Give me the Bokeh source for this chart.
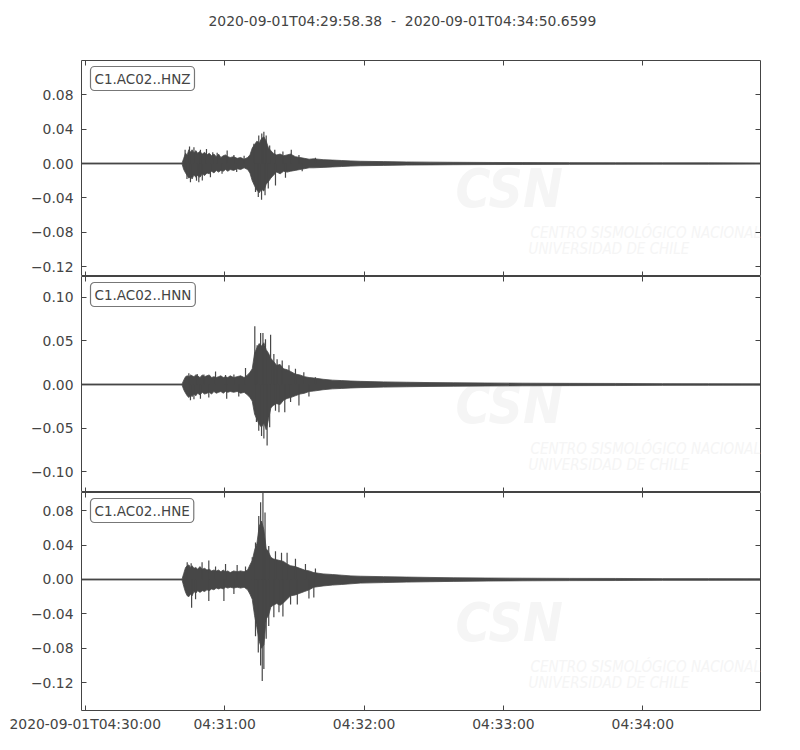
import pandas as pd
from bokeh.plotting import figure
from bokeh.layouts import column
from bokeh.models import Range1d, LinearAxis, FixedTicker, Label, Title, CustomJSTickFormatter
from bokeh.embed import file_html
from bokeh.resources import INLINE

# ---------------- data ----------------
START = "2020-09-01T04:29:58.38"
END = "2020-09-01T04:34:50.6599"
channels = ["C1.AC02..HNZ", "C1.AC02..HNN", "C1.AC02..HNE"]

x_tick_times = ["2020-09-01T04:30:00", "2020-09-01T04:31:00", "2020-09-01T04:32:00",
                "2020-09-01T04:33:00", "2020-09-01T04:34:00"]
x_tick_labels = ["2020-09-01T04:30:00", "04:31:00", "04:32:00", "04:33:00", "04:34:00"]

y_ticks_hnz = [-0.12, -0.08, -0.04, 0.0, 0.04, 0.08]
y_ticks_hnn = [-0.10, -0.05, 0.0, 0.05, 0.10]
y_ticks_hne = [-0.12, -0.08, -0.04, 0.0, 0.04, 0.08]

y_range_hnz = (-0.1314, 0.1198)
y_range_hnn = (-0.124, 0.124)
y_range_hne = (-0.1524, 0.1012)

# envelope sample times (s after start)
t_env = [0, 43.3, 44.0, 44.8, 45.5, 46.2, 47.0, 47.6, 48.4, 49.2,
         50.0, 51.0, 52.0, 53.0, 54.0, 55.0, 56.0, 57.0, 58.0, 59.0,
         60.0, 61.0, 62.0, 63.0, 64.0, 65.5, 67.0, 68.5, 70.0, 71.5,
         72.5, 73.5, 74.5, 75.5, 76.5, 77.5, 78.5, 79.5, 80.5, 81.5,
         82.5, 84.0, 85.5, 87.0, 88.5, 90.0, 92.0, 94.0, 96.0, 98.0,
         100.0, 104.0, 108.0, 112.0, 116.0, 120.0, 130.0, 140.0, 150.0, 160.0,
         175.0, 190.0, 210.0, 230.0, 250.0, 270.0, 292.28]

hnz_upper = [0.0006, 0.0006, 0.006, 0.012, 0.010, 0.016, 0.013, 0.016, 0.012, 0.015,
             0.012, 0.014, 0.011, 0.013, 0.010, 0.012, 0.009, 0.011, 0.008, 0.011,
             0.007, 0.009, 0.010, 0.008, 0.007, 0.008, 0.006, 0.007, 0.005, 0.007,
             0.010, 0.018, 0.022, 0.026, 0.024, 0.029, 0.031, 0.026, 0.018, 0.015,
             0.012, 0.010, 0.011, 0.009, 0.010, 0.011, 0.008, 0.007, 0.006, 0.005,
             0.0055, 0.0045, 0.004, 0.0035, 0.003, 0.0026, 0.0022, 0.0018, 0.0016, 0.0014,
             0.0012, 0.0011, 0.001, 0.0009, 0.0008, 0.0008, 0.0007]
hnz_lower = [-0.0006, -0.0006, -0.007, -0.011, -0.014, -0.017, -0.015, -0.018, -0.013, -0.016,
             -0.014, -0.016, -0.012, -0.014, -0.011, -0.012, -0.009, -0.011, -0.008, -0.010,
             -0.008, -0.009, -0.007, -0.009, -0.007, -0.008, -0.006, -0.007, -0.005, -0.007,
             -0.011, -0.020, -0.026, -0.031, -0.034, -0.030, -0.032, -0.024, -0.021, -0.017,
             -0.014, -0.010, -0.012, -0.009, -0.010, -0.009, -0.008, -0.007, -0.006, -0.005,
             -0.005, -0.0045, -0.004, -0.0035, -0.003, -0.0026, -0.0022, -0.0018, -0.0016, -0.0014,
             -0.0012, -0.0011, -0.001, -0.0009, -0.0008, -0.0008, -0.0007]

hnn_upper = [0.0006, 0.0006, 0.005, 0.009, 0.010, 0.009, 0.011, 0.010, 0.009, 0.011,
             0.010, 0.008, 0.011, 0.009, 0.010, 0.011, 0.008, 0.009, 0.008, 0.009,
             0.010, 0.008, 0.009, 0.008, 0.010, 0.008, 0.009, 0.010, 0.008, 0.011,
             0.014, 0.018, 0.036, 0.042, 0.047, 0.044, 0.048, 0.040, 0.036, 0.030,
             0.027, 0.022, 0.023, 0.018, 0.017, 0.015, 0.012, 0.011, 0.009, 0.008,
             0.0075, 0.006, 0.005, 0.0045, 0.004, 0.0036, 0.003, 0.0026, 0.0022, 0.002,
             0.0017, 0.0015, 0.0013, 0.0012, 0.001, 0.0009, 0.0008]
hnn_lower = [-0.0006, -0.0006, -0.006, -0.010, -0.013, -0.015, -0.012, -0.014, -0.011, -0.013,
             -0.010, -0.012, -0.009, -0.011, -0.010, -0.009, -0.011, -0.008, -0.010, -0.009,
             -0.008, -0.010, -0.008, -0.009, -0.008, -0.009, -0.008, -0.010, -0.009, -0.012,
             -0.015, -0.019, -0.034, -0.040, -0.046, -0.049, -0.044, -0.052, -0.040, -0.027,
             -0.024, -0.022, -0.023, -0.018, -0.016, -0.015, -0.013, -0.011, -0.010, -0.008,
             -0.0075, -0.006, -0.005, -0.0045, -0.004, -0.0036, -0.003, -0.0026, -0.0022, -0.002,
             -0.0017, -0.0015, -0.0013, -0.0012, -0.001, -0.0009, -0.0008]

hne_upper = [0.0006, 0.0006, 0.007, 0.014, 0.016, 0.017, 0.014, 0.016, 0.013, 0.014,
             0.012, 0.015, 0.012, 0.013, 0.011, 0.012, 0.010, 0.011, 0.010, 0.011,
             0.009, 0.011, 0.009, 0.010, 0.008, 0.010, 0.009, 0.010, 0.009, 0.011,
             0.017, 0.022, 0.034, 0.042, 0.062, 0.068, 0.058, 0.036, 0.032, 0.026,
             0.024, 0.023, 0.022, 0.021, 0.018, 0.016, 0.015, 0.013, 0.011, 0.010,
             0.008, 0.0065, 0.0058, 0.005, 0.0042, 0.0038, 0.0033, 0.0028, 0.0024, 0.002,
             0.0017, 0.0015, 0.0013, 0.0012, 0.001, 0.001, 0.0009]
hne_lower = [-0.0006, -0.0006, -0.008, -0.015, -0.019, -0.020, -0.017, -0.019, -0.014, -0.016,
             -0.013, -0.015, -0.013, -0.014, -0.012, -0.013, -0.011, -0.012, -0.010, -0.011,
             -0.010, -0.011, -0.009, -0.010, -0.009, -0.010, -0.009, -0.010, -0.009, -0.012,
             -0.017, -0.023, -0.042, -0.056, -0.072, -0.080, -0.076, -0.046, -0.042, -0.032,
             -0.030, -0.028, -0.030, -0.027, -0.023, -0.019, -0.018, -0.016, -0.014, -0.012,
             -0.009, -0.0075, -0.0065, -0.0058, -0.005, -0.0042, -0.0036, -0.003, -0.0026, -0.0022,
             -0.0018, -0.0015, -0.0013, -0.0012, -0.001, -0.001, -0.0009]

# individual peaks standing out of the envelope (time s, value)
hnz_spike_t = [44.6, 45.4, 46.5, 46.9, 48.4, 49.5, 50.5, 51.2, 52.0, 53.8,
               55.5, 56.5, 58.4, 60.5, 62.7, 65.6, 66.8, 70.0, 74.2, 74.9,
               76.1, 76.3, 77.5, 77.6, 78.5, 79.0, 79.5, 80.4, 81.0, 83.2,
               83.5, 86.7, 87.8, 90.3, 93.6, 95.0, 100.7]
hnz_spike_v = [0.016, -0.018, 0.0198, -0.0217, 0.019, -0.020, -0.0217, 0.016, -0.0198, 0.017,
               -0.016, 0.013, 0.0124, -0.012, 0.015, 0.010, -0.010, 0.009, 0.023, -0.033,
               -0.039, 0.0326, -0.042, 0.035, 0.037, -0.037, 0.0326, -0.029, 0.021, 0.016,
               -0.0256, 0.014, -0.0167, 0.016, 0.010, -0.009, 0.0066]

hnn_spike_t = [46.2, 49.8, 52.7, 57.7, 62.0, 65.6, 70.6, 74.6, 75.6, 77.1,
               78.1, 79.2, 81.4, 82.8, 84.2, 86.4, 89.3, 92.1, 95.7, 100.7,
               46.9, 48.4, 51.2, 54.8, 62.5, 67.7, 75.3, 76.3, 77.5, 78.5,
               79.9, 81.0, 83.5, 85.0, 87.5, 90.0, 93.6, 97.9]
hnn_spike_v = [0.013, 0.012, 0.0115, 0.015, 0.011, 0.0115, 0.019, 0.067, 0.045, 0.059,
               0.059, 0.052, 0.057, 0.035, 0.029, 0.0276, 0.022, 0.018, 0.014, 0.0084,
               -0.018, -0.017, -0.0165, -0.015, -0.0165, -0.0138, -0.043, -0.053, -0.059, -0.062,
               -0.070, -0.049, -0.030, -0.032, -0.032, -0.020, -0.024, -0.0138]

hne_spike_t = [45.5, 47.2, 51.9, 54.8, 57.7, 62.0, 67.0, 70.6, 73.5, 74.9,
               76.3, 77.1, 78.1, 79.0, 80.6, 83.5, 86.1, 88.5, 92.1, 96.4,
               100.7, 47.4, 49.1, 54.8, 61.3, 65.6, 74.9, 76.1, 77.1, 77.8,
               78.5, 79.5, 80.6, 82.8, 85.0, 86.7, 90.0, 92.9, 97.9, 100.0]
hne_spike_v = [0.020, 0.019, 0.020, 0.022, 0.015, 0.018, 0.017, 0.015, 0.026, 0.043,
               0.074, 0.090, 0.105, 0.078, 0.039, 0.033, 0.031, 0.031, 0.024, 0.018,
               0.0128, -0.033, -0.023, -0.025, -0.025, -0.017, -0.066, -0.085, -0.100, -0.118,
               -0.104, -0.069, -0.054, -0.044, -0.038, -0.043, -0.029, -0.029, -0.022, -0.021]

# ---------------- styling ----------------
FONT = "DejaVu Sans"
TXT = "#444444"
WAVE = "#474747"
FRAME_W = 679

t0 = pd.Timestamp(START)
duration = (pd.Timestamp(END) - t0).total_seconds()
x_ticks = [(pd.Timestamp(s) - t0).total_seconds() for s in x_tick_times]
xr = Range1d(0, duration)

y_fmt = CustomJSTickFormatter(code="return (tick < -1e-9 ? '\u2212' : '') + Math.abs(tick).toFixed(2);")
x_fmt = CustomJSTickFormatter(args=dict(labels=x_tick_labels), code="return labels[index];")
blank = CustomJSTickFormatter(code="return '';")


def make_axis(ticks, fmt, labelled):
    a = LinearAxis(ticker=FixedTicker(ticks=ticks, minor_ticks=[]), formatter=fmt if labelled else blank,
                   major_tick_in=5, major_tick_out=0, axis_line_color=None,
                   major_tick_line_color=TXT, major_tick_line_width=1, minor_tick_line_color=None)
    if labelled:
        a.major_label_text_font = FONT
        a.major_label_text_font_size = "13.9px"
        a.major_label_text_color = TXT
    else:
        a.major_label_text_font_size = "0px"
        a.major_label_standoff = 0
    return a


def panel(name, upper, lower, st, sv, yr, yticks, frame_h, first, last):
    p = figure(title=None, frame_width=FRAME_W, frame_height=frame_h, x_range=xr, y_range=Range1d(*yr),
               output_backend="svg", toolbar_location=None,
               x_axis_location=None, y_axis_location=None,
               min_border_left=81, min_border_right=24,
               min_border_top=60 if first else 0, min_border_bottom=0,
               outline_line_color=TXT, outline_line_width=1,
               background_fill_color="white", border_fill_color="white")
    p.xgrid.grid_line_color = None
    p.ygrid.grid_line_color = None

    # faint watermark
    for txt, xx, yy, size, style in [("CSN", 374, 88, "53px", "bold italic"),
                                     ("CENTRO SISMOLÓGICO NACIONAL", 449, 44, "15px", "italic"),
                                     ("UNIVERSIDAD DE CHILE", 447, 28, "15px", "italic")]:
        p.add_layout(Label(x=xx, y=yy, x_units="screen", y_units="screen", text=txt,
                           text_font="DejaVu Sans Condensed", text_font_size=size,
                           text_baseline="alphabetic",
                           text_font_style=style, text_color="#f5f5f5", level="underlay"))

    p.varea(x=t_env, y1=lower, y2=upper, fill_color=WAVE)
    p.line(x=t_env, y=upper, line_color=WAVE, line_width=0.8)
    p.line(x=t_env, y=lower, line_color=WAVE, line_width=0.8)
    p.segment(x0=st, y0=[0] * len(st), x1=st, y1=sv, line_color=WAVE, line_width=1.2)

    left = make_axis(yticks, y_fmt, True)
    left.major_label_standoff = 8
    p.add_layout(left, "left")
    p.add_layout(make_axis(yticks, y_fmt, False), "right")
    p.add_layout(make_axis(x_ticks, x_fmt, False), "above")
    bottom = make_axis(x_ticks, x_fmt, last)
    if last:
        bottom.major_label_standoff = 5
    p.add_layout(bottom, "below")

    p.add_layout(Label(x=9, y=frame_h - 6, x_units="screen", y_units="screen", text=name,
                       text_font=FONT, text_font_size="13.5px", text_color=TXT, text_baseline="top",
                       padding=4, border_line_color="#777777", border_line_width=1.2,
                       background_fill_color="white", border_radius=4))
    if first:
        # empty spacer title next to the frame, then the real title above it
        p.add_layout(Title(text=" ", text_font_size="16px", standoff=10), "above")
        p.add_layout(Title(text=START + " \u00a0-\u00a0 " + END, text_font=FONT, text_font_size="13.9px",
                           text_font_style="normal", text_color=TXT, align="left", offset=127,
                           standoff=6), "above")
    return p


p1 = panel(channels[0], hnz_upper, hnz_lower, hnz_spike_t, hnz_spike_v, y_range_hnz, y_ticks_hnz, 216, True, False)
p2 = panel(channels[1], hnn_upper, hnn_lower, hnn_spike_t, hnn_spike_v, y_range_hnn, y_ticks_hnn, 216, False, False)
p3 = panel(channels[2], hne_upper, hne_lower, hne_spike_t, hne_spike_v, y_range_hne, y_ticks_hne, 218, False, True)

layout = column(p1, p2, p3, spacing=0)
open("out.html", "w").write(file_html(layout, INLINE))
